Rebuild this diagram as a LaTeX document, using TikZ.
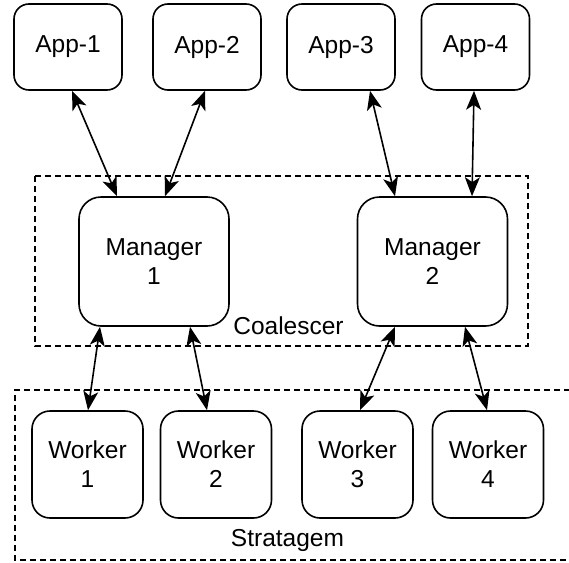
\documentclass[tikz,border=0pt]{standalone}
\usepackage{fontspec}
\setmainfont{Liberation Sans}
\usetikzlibrary{arrows.meta}
\begin{document}
\begin{tikzpicture}[x=1pt,y=-1pt,
  every node/.style={font=\fontsize{24.5}{29}\selectfont, align=center},
  appbox/.style={draw, line width=1.6pt, rounded corners=15pt, minimum width=108pt, minimum height=86pt, inner sep=0pt},
  mgrbox/.style={draw, line width=1.6pt, rounded corners=22pt, minimum width=150pt, minimum height=129pt, inner sep=0pt},
  wkbox/.style={draw, line width=1.6pt, rounded corners=18pt, minimum width=111pt, minimum height=107pt, inner sep=0pt},
  group/.style={draw, line width=1.6pt, dash pattern=on 6pt off 4pt},
  link/.style={line width=1.6pt, {Stealth[length=19pt,width=15pt,inset=5pt]}-{Stealth[length=19pt,width=15pt,inset=5pt]}}
]
\useasboundingbox (0,0) rectangle (569,562);
\fill[white] (0,0) rectangle (569,562);
% groups
\draw[group] (35,176) rectangle (528,346);
\draw[group] (580,390) -- (15,390) -- (15,560) -- (580,560);
\node (coal) at (288.5,326) {Coalescer};
\node (strat) at (287.5,540) {Stratagem};
% boxes
\node[appbox] (app1) at (68,47) {App-1};
\node[appbox] (app2) at (207,47) {App-2};
\node[appbox] (app3) at (341,47) {App-3};
\node[appbox] (app4) at (475.5,47) {App-4};
\node[mgrbox] (mgr1) at (154,261.5) {Manager\\1};
\node[mgrbox] (mgr2) at (432.5,261.5) {Manager\\2};
\node[wkbox] (w1) at (87.5,464.5) {Worker\\1};
\node[wkbox] (w2) at (216,464.5) {Worker\\2};
\node[wkbox] (w3) at (357.5,464.5) {Worker\\3};
\node[wkbox] (w4) at (488,464.5) {Worker\\4};
% links
\draw[link] ([xshift=4pt]app1.south) -- ([xshift=-37pt]mgr1.north);
\draw[link] ([xshift=-2pt]app2.south) -- ([xshift=11pt]mgr1.north);
\draw[link] ([xshift=29pt]app3.south) -- ([xshift=-37.5pt]mgr2.north);
\draw[link] ([xshift=-1.5pt]app4.south) -- ([xshift=39.5pt]mgr2.north);
\draw[link] ([xshift=-54pt]mgr1.south) -- ([xshift=0.5pt]w1.north);
\draw[link] ([xshift=36pt]mgr1.south) -- ([xshift=-9pt]w2.north);
\draw[link] ([xshift=-37.5pt]mgr2.south) -- ([xshift=2.5pt]w3.north);
\draw[link] ([xshift=32.5pt]mgr2.south) -- ([xshift=-1pt]w4.north);
\end{tikzpicture}
\end{document}
